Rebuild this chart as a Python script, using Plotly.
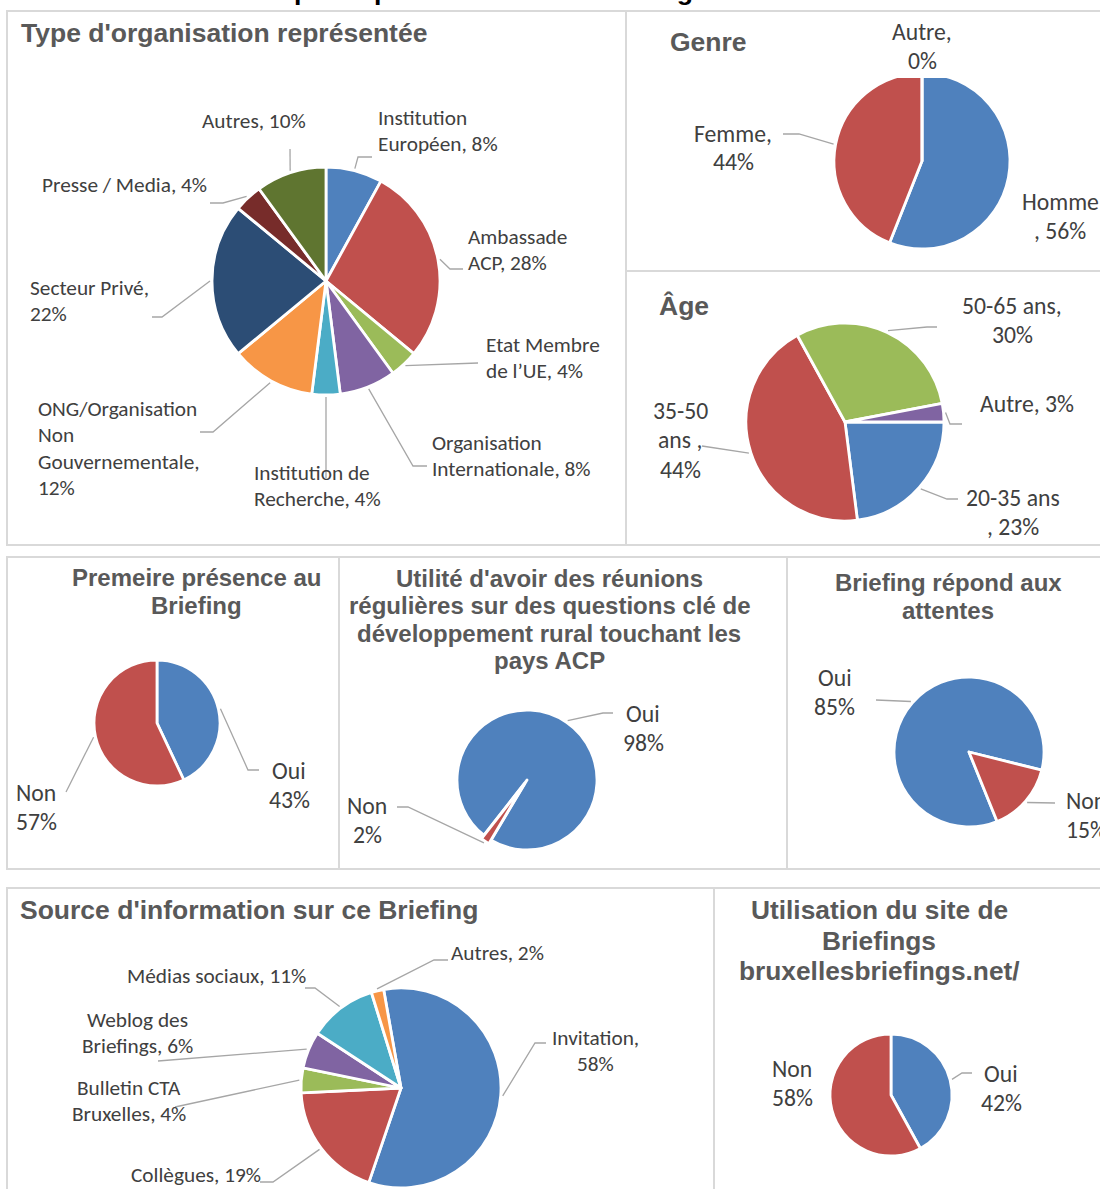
import math
import plotly.graph_objects as go

W, H = 1100, 1189

# ------------------------------------------------------------------ data
org_labels = ["Institution Européen", "Ambassade ACP", "Etat Membre de l’UE",
              "Organisation Internationale", "Institution de Recherche",
              "ONG/Organisation Non Gouvernementale", "Secteur Privé",
              "Presse / Media", "Autres"]
org_values = [8, 28, 4, 8, 4, 12, 22, 4, 10]

genre_labels = ["Homme", "Femme", "Autre"]
genre_values = [56, 44, 0]

age_labels = ["20-35 ans", "35-50 ans", "50-65 ans", "Autre"]
age_values = [23, 44, 30, 3]

premiere_labels = ["Oui", "Non"]
premiere_values = [43, 57]

utilite_labels = ["Oui", "Non"]
utilite_values = [98, 2]

attentes_labels = ["Oui", "Non"]
attentes_values = [85, 15]

source_labels = ["Invitation", "Collègues", "Bulletin CTA Bruxelles",
                 "Weblog des Briefings", "Médias sociaux", "Autres"]
source_values = [58, 19, 4, 6, 11, 2]

site_labels = ["Oui", "Non"]
site_values = [42, 58]

# ------------------------------------------------------------------ style
BLUE, RED, GREEN, PURPLE = "#4F81BD", "#C0504D", "#9BBB59", "#8064A2"
AQUA, ORANGE, DBLUE, DRED, OLIVE = "#4BACC6", "#F79646", "#2C4D75", "#772C2A", "#5F7530"
TITLE_C, LABEL_C, LINE_C, BORDER_C = "#595959", "#404040", "#A6A6A6", "#D9D9D9"
TITLE_F = "Liberation Sans, Arial, sans-serif"
LABEL_F = "Carlito, Calibri, Lato, sans-serif"
FS_SMALL, FS_BIG = 21.3, 23.7

# label layout per slice: text lines (value inserted), anchor x, first-line y, leader points
pies = [
    dict(labels=org_labels, values=org_values,
         colors=[BLUE, RED, GREEN, PURPLE, AQUA, ORANGE, DBLUE, DRED, OLIVE],
         cx=326, cy=281, r=114, rot=0, pull=None, align="left", fs=FS_SMALL, lsp=26.3,
         lab=[
             dict(lines=["Institution", "Européen, {v}%"], x=376, y=118, path=[(358, 157), (372, 157)]),
             dict(lines=["Ambassade", "ACP, {v}%"], x=466, y=237, path=[(450, 269), (463, 269)]),
             dict(lines=["Etat Membre", "de l’UE, {v}%"], x=484, y=345, path=[(478, 363)]),
             dict(lines=["Organisation", "Internationale, {v}%"], x=430, y=443, path=[(413, 466), (427, 466)]),
             dict(lines=["Institution de", "Recherche, {v}%"], x=252, y=473, path=[(326, 478)]),
             dict(lines=["ONG/Organisation", "Non", "Gouvernementale,", "{v}%"], x=36, y=409,
                  path=[(213, 432), (200, 432)]),
             dict(lines=["Secteur Privé,", "{v}%"], x=28, y=288, path=[(162, 317), (152, 317)]),
             dict(lines=["Presse / Media, {v}%"], x=40, y=185, path=[(223, 203), (210, 203)]),
             dict(lines=["Autres, {v}%"], x=200, y=121, path=[(290, 149)]),
         ]),
    dict(labels=genre_labels, values=genre_values, colors=[BLUE, RED, GREEN],
         cx=922, cy=161, r=88, rot=0, pull=None, align="center", fs=FS_BIG, lsp=28.5,
         lab=[
             dict(lines=["Homme", ", {v}%"], x=1060, y=202, path=None),
             dict(lines=["Femme,", "{v}%"], x=733, y=133, path=[(799, 134), (783, 134)]),
             dict(lines=["Autre,", "{v}%"], x=922, y=32, path=None),
         ]),
    dict(labels=age_labels, values=age_values, colors=[BLUE, RED, GREEN, PURPLE],
         cx=845, cy=422, r=99, rot=90, pull=None, align="center", fs=FS_BIG, lsp=29.5,
         lab=[
             dict(lines=["20-35 ans", ", {v}%"], x=1013, y=497, path=[(947, 499), (958, 499)]),
             dict(lines=["35-50", "ans ,", "{v}%"], x=680, y=410, path=[(702, 446)]),
             dict(lines=["50-65 ans,", "{v}%"], x=1012, y=305, path=[(927, 327), (937, 327)]),
             dict(lines=["Autre, {v}%"], x=1027, y=403, path=[(950, 424), (962, 424)]),
         ]),
    dict(labels=premiere_labels, values=premiere_values, colors=[BLUE, RED],
         cx=157, cy=723, r=63, rot=0, pull=None, align="center", fs=FS_BIG, lsp=29.5,
         lab=[
             dict(lines=["Oui", "{v}%"], x=289, y=770, path=[(248, 770), (259, 770)]),
             dict(lines=["Non", "{v}%"], x=36, y=792, path=[(66, 792)]),
         ]),
    dict(labels=utilite_labels, values=utilite_values, colors=[BLUE, RED],
         cx=527, cy=780, r=70, rot=-142, pull=[0, 0.06], align="center", fs=FS_BIG, lsp=29.5,
         lab=[
             dict(lines=["Oui", "{v}%"], x=643, y=713, path=[(603, 713), (613, 713)]),
             dict(lines=["Non", "{v}%"], x=367, y=805, path=[(408, 807), (397, 807)]),
         ]),
    dict(labels=attentes_labels, values=attentes_values, colors=[BLUE, RED],
         cx=969, cy=752, r=75, rot=158, pull=None, align="center", fs=FS_BIG, lsp=29.5,
         lab=[
             dict(lines=["Oui", "{v}%"], x=835, y=677, path=[(876, 700)]),
             dict(lines=["Non", "{v}%"], x=1086, y=800, path=[(1055, 803)]),
         ]),
    dict(labels=source_labels, values=source_values,
         colors=[BLUE, RED, GREEN, PURPLE, AQUA, ORANGE],
         cx=401, cy=1088, r=100, rot=-10, pull=None, align="center", fs=FS_SMALL, lsp=26,
         lab=[
             dict(lines=["Invitation,", "{v}%"], x=595, y=1038, path=[(535, 1043), (546, 1043)]),
             dict(lines=["Collègues, {v}%"], x=196, y=1175, path=[(273, 1182), (260, 1182)]),
             dict(lines=["Bulletin CTA", "Bruxelles, {v}%"], x=129, y=1088, path=[(175, 1107)]),
             dict(lines=["Weblog des", "Briefings, {v}%"], x=137, y=1020, path=[(158, 1061)]),
             dict(lines=["Médias sociaux, {v}%"], x=216, y=976, path=[(315, 988), (305, 988)]),
             dict(lines=["Autres, {v}%"], x=498, y=953, path=[(434, 960), (448, 960)]),
         ]),
    dict(labels=site_labels, values=site_values, colors=[BLUE, RED],
         cx=891, cy=1095, r=61, rot=0, pull=None, align="center", fs=FS_BIG, lsp=29,
         lab=[
             dict(lines=["Oui", "{v}%"], x=1001, y=1073, path=[(962, 1073), (972, 1073)]),
             dict(lines=["Non", "{v}%"], x=792, y=1068, path=None),
         ]),
]

titles = [
    dict(lines=["Type d'organisation représentée"], x=19, y=33, anchor="left", fs=26.5),
    dict(lines=["Genre"], x=668, y=42, anchor="left", fs=26.5),
    dict(lines=["Âge"], x=657, y=306, anchor="left", fs=26.5),
    dict(lines=["Premeire présence au", "Briefing"], x=196, y=577, anchor="center", fs=24, lsp=28),
    dict(lines=["Utilité d'avoir des réunions", "régulières sur des questions clé de",
                "développement rural touchant les", "pays ACP"], x=549, y=578, anchor="center", fs=24, lsp=27.5),
    dict(lines=["Briefing répond aux", "attentes"], x=948, y=582, anchor="center", fs=24, lsp=28),
    dict(lines=["Source d'information sur ce Briefing"], x=18, y=910, anchor="left", fs=26.5),
    dict(lines=["Utilisation du site de", "Briefings", "bruxellesbriefings.net/"], x=879, y=910,
         anchor="center", fs=26.3, lsp=30.5),
]

panels = [(7, 11, 626, 545), (626, 11, 1105, 271), (626, 271, 1105, 545),
          (7, 557, 339, 869), (339, 557, 787, 869), (787, 557, 1105, 869),
          (7, 888, 714, 1200), (714, 888, 1105, 1200)]

# ------------------------------------------------------------------ build
def px(x):
    return x / W


def py(y):
    return 1 - y / H


fig = go.Figure()
annotations = []
shapes = []

for (x0, y0, x1, y1) in panels:
    shapes.append(dict(type="rect", xref="paper", yref="paper", x0=px(x0), x1=px(x1),
                       y0=py(y1), y1=py(y0), line=dict(color=BORDER_C, width=2),
                       fillcolor="rgba(0,0,0,0)", layer="below"))

for p in pies:
    maxpull = max(p["pull"]) if p["pull"] else 0
    half = p["r"] * (1 + maxpull)
    dom_x = [max(0, px(p["cx"] - half)), min(1, px(p["cx"] + half))]
    dom_y = [max(0, py(p["cy"] + half)), min(1, py(p["cy"] - half))]
    fig.add_trace(go.Pie(
        labels=p["labels"], values=p["values"], sort=False, direction="clockwise",
        rotation=p["rot"], pull=p["pull"],
        marker=dict(colors=p["colors"], line=dict(color="white", width=2.8)),
        textinfo="none", hoverinfo="label+percent", showlegend=False,
        domain=dict(x=dom_x, y=dom_y)))

    total = sum(p["values"])
    cum = 0
    for i, v in enumerate(p["values"]):
        mid = p["rot"] + (cum + v / 2) / total * 360
        cum += v
        spec = p["lab"][i]
        pl = p["pull"][i] if p["pull"] else 0
        rr = p["r"] * (1 + pl) + 2
        a = math.radians(mid)
        sx, sy = p["cx"] + rr * math.sin(a), p["cy"] - rr * math.cos(a)
        if spec["path"]:
            pts = [(sx, sy)] + spec["path"]
            d = "M " + " L ".join(f"{px(x):.5f},{py(y):.5f}" for x, y in pts)
            shapes.append(dict(type="path", xref="paper", yref="paper", path=d,
                               line=dict(color=LINE_C, width=1.3), layer="above"))
        if p is pies[1] and i == 2:
            # white label box that masks the top of the Genre pie
            shapes.append(dict(type="rect", xref="paper", yref="paper", x0=px(883), x1=px(961),
                               y0=py(78), y1=py(14), line=dict(width=0), fillcolor="white",
                               layer="above"))
        for k, line in enumerate(spec["lines"]):
            annotations.append(dict(
                x=px(spec["x"]), y=py(spec["y"] + k * p["lsp"]), xref="paper", yref="paper",
                text=line.format(v=v), showarrow=False, xanchor=p["align"], yanchor="middle",
                font=dict(family=LABEL_F, size=p["fs"], color=LABEL_C)))

for t in titles:
    for k, line in enumerate(t["lines"]):
        annotations.append(dict(
            x=px(t["x"]), y=py(t["y"] + k * t.get("lsp", 0)), xref="paper", yref="paper",
            text=f"<b>{line}</b>", showarrow=False, xanchor=t["anchor"], yanchor="middle",
            font=dict(family=TITLE_F, size=t["fs"], color=TITLE_C)))

# section heading, cut off by the top edge of the page
annotations.append(dict(x=px(93), y=py(-9), xref="paper", yref="paper", text="<b>iii.</b>",
                        showarrow=False, xanchor="left", yanchor="middle",
                        font=dict(family=TITLE_F, size=22, color="black")))
annotations.append(dict(x=px(163), y=py(-9), xref="paper", yref="paper",
                        text="<b>Profil des participants et Commentaires généraux</b>",
                        showarrow=False, xanchor="left", yanchor="middle",
                        font=dict(family=TITLE_F, size=26.7, color="black")))

fig.update_layout(width=W, height=H, margin=dict(l=0, r=0, t=0, b=0),
                  paper_bgcolor="white", plot_bgcolor="white",
                  annotations=annotations, shapes=shapes)

fig.write_html("out.html", config={"displayModeBar": False},
               post_script="document.body.style.margin='0';")
